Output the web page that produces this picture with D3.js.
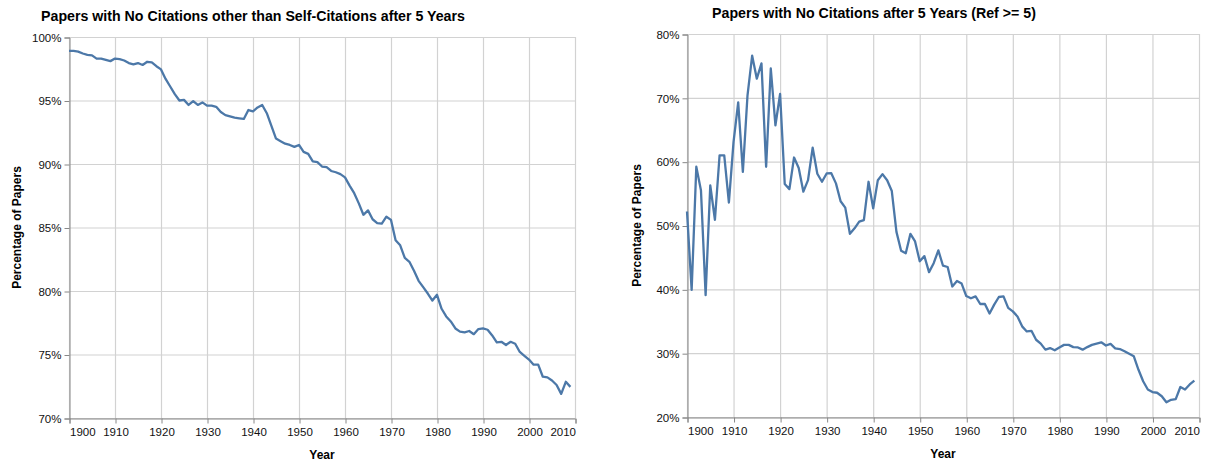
<!DOCTYPE html>
<html><head><meta charset="utf-8">
<script src="https://cdn.jsdelivr.net/npm/d3@7"></script>
<style>
body{margin:0;background:#fff;}
text{font-family:"Liberation Sans",Arial,Helvetica,sans-serif;}
</style></head>
<body><svg id="c" width="1205" height="464"></svg>
<script>
const years = d3.range(1900, 2010);
const selfCitePct = [98.9,98.9,98.85,98.7,98.6,98.55,98.3,98.3,98.2,98.1,
98.3,98.25,98.15,97.95,97.85,97.95,97.8,98.05,98.0,97.7,
97.45,96.7,96.1,95.5,95.0,95.05,94.65,94.95,94.65,94.85,
94.6,94.6,94.5,94.1,93.85,93.75,93.65,93.6,93.55,94.25,
94.15,94.45,94.65,94.0,93.0,92.0,91.8,91.6,91.5,91.35,
91.5,90.95,90.8,90.2,90.15,89.8,89.75,89.45,89.35,89.2,
88.95,88.3,87.7,86.9,86.0,86.35,85.65,85.35,85.3,85.85,
85.6,84.0,83.6,82.6,82.3,81.6,80.8,80.3,79.8,79.25,
79.7,78.6,78.0,77.6,77.05,76.8,76.75,76.85,76.6,77.0,
77.05,76.95,76.5,75.95,76.0,75.75,76.0,75.85,75.2,74.9,
74.6,74.2,74.2,73.25,73.2,72.95,72.6,71.9,72.85,72.45];
const ref5Pct = [52.2,39.9,59.2,55.5,39.1,56.3,50.9,61.0,61.0,53.6,
63.1,69.3,58.4,70.4,76.6,73.0,75.4,59.2,74.6,65.7,
70.6,56.5,55.7,60.65,59.0,55.3,57.1,62.2,58.1,56.85,
58.15,58.2,56.6,53.8,52.8,48.7,49.55,50.6,50.85,56.85,
52.7,57.1,58.05,57.1,55.4,49.0,46.05,45.65,48.7,47.5,
44.4,45.2,42.7,44.1,46.1,43.7,43.5,40.45,41.3,40.9,
38.95,38.6,38.9,37.7,37.7,36.2,37.6,38.8,38.9,37.1,
36.55,35.75,34.2,33.4,33.5,32.1,31.5,30.55,30.8,30.45,
30.9,31.3,31.3,30.95,30.9,30.55,30.95,31.3,31.5,31.7,
31.2,31.45,30.75,30.65,30.3,29.9,29.5,27.4,25.6,24.3,
23.9,23.8,23.25,22.3,22.7,22.8,24.7,24.3,25.1,25.7];
const xTicks = [1900,1910,1920,1930,1940,1950,1960,1970,1980,1990,2000,2010];
const leftYTicks = [70,75,80,85,90,95,100];
const rightYTicks = [20,30,40,50,60,70,80];
const titles = ["Papers with No Citations other than Self-Citations after 5 Years",
                "Papers with No Citations after 5 Years (Ref >= 5)"];

const svg = d3.select("#c");

function panel(cfg){
  const g = svg.append("g");
  const x = d3.scaleLinear().domain([1900,2010]).range([cfg.x0, cfg.x1]);
  const y = d3.scaleLinear().domain(cfg.ydom).range([cfg.y1, cfg.y0]);
  // grid
  g.append("g").selectAll("line").data(cfg.yTicks).join("line")
    .attr("x1", cfg.x0).attr("x2", cfg.x1)
    .attr("y1", d=>y(d)+0.5).attr("y2", d=>y(d)+0.5)
    .attr("stroke", "#d2d2d2").attr("stroke-width", 1.2);
  g.append("g").selectAll("line").data(xTicks).join("line")
    .attr("y1", cfg.y0).attr("y2", cfg.y1)
    .attr("x1", d=>x(d)+0.5).attr("x2", d=>x(d)+0.5)
    .attr("stroke", "#d2d2d2").attr("stroke-width", 1.2);
  // axes
  const xa = g.append("g").attr("transform", `translate(0.5,${cfg.y1+0.5})`)
    .call(d3.axisBottom(x).tickValues(xTicks).tickFormat(d3.format("d")).tickSizeOuter(0).tickSize(5).tickPadding(4));
  xa.select(".domain").attr("stroke", "#888");
  xa.selectAll(".tick line").attr("stroke", "#888");
  xa.selectAll(".tick text").attr("font-size", 11.5).attr("fill", "#111")
    .attr("font-family", '"Liberation Sans",Arial,sans-serif')
    .attr("text-anchor", (d,i)=> i===0 ? "start" : (i===xTicks.length-1 ? "end" : "middle"));
  const ya = g.append("g").attr("transform", `translate(${cfg.x0+0.5},0.5)`)
    .call(d3.axisLeft(y).tickValues(cfg.yTicks).tickFormat(d=>d+"%").tickSizeOuter(0).tickSize(5).tickPadding(3));
  ya.select(".domain").attr("stroke", "#888");
  ya.selectAll(".tick line").attr("stroke", "#888");
  ya.selectAll(".tick text").attr("font-size", 11.5).attr("fill", "#111")
    .attr("font-family", '"Liberation Sans",Arial,sans-serif');
  // line
  g.append("path").datum(cfg.vals)
    .attr("fill", "none").attr("stroke", "#4c78a8").attr("stroke-width", 2.3)
    .attr("stroke-linejoin", "round")
    .attr("d", d3.line().x((d,i)=>x(years[i])).y(d=>y(d)));
  // titles
  g.append("text").attr("x", cfg.titleX).attr("y", cfg.titleY)
    .attr("text-anchor", "middle").attr("font-size", 14.2).attr("font-weight", "bold")
    .text(cfg.title);
  g.append("text").attr("x", (cfg.x0+cfg.x1)/2).attr("y", cfg.y1+41)
    .attr("text-anchor", "middle").attr("font-size", 12).attr("font-weight", "bold")
    .text("Year");
  g.append("text")
    .attr("transform", `translate(${cfg.yTitleX},${(cfg.y0+cfg.y1)/2}) rotate(-90)`)
    .attr("text-anchor", "middle").attr("font-size", 12).attr("font-weight", "bold")
    .text("Percentage of Papers");
}

panel({x0:69, x1:575, y0:37, y1:418, ydom:[70,100], yTicks:leftYTicks, vals:selfCitePct,
  title:titles[0], titleX:253, titleY:21, yTitleX:21});
panel({x0:687, x1:1199, y0:34, y1:417, ydom:[20,80], yTicks:rightYTicks, vals:ref5Pct,
  title:titles[1], titleX:874, titleY:18, yTitleX:641});
</script>
</body></html>
